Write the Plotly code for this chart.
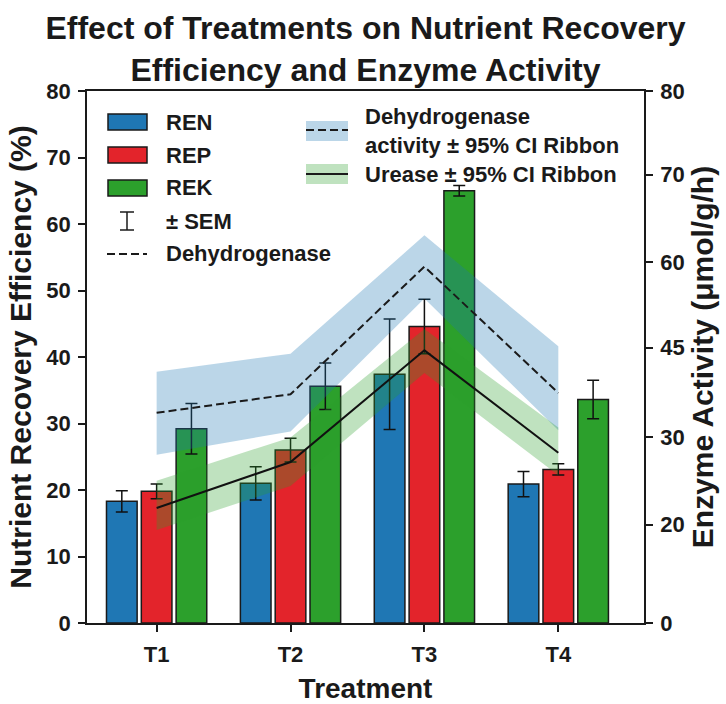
import plotly.graph_objects as go

# ---- data ----
treatments = ["T1", "T2", "T3", "T4"]

ren = [18.3, 21.0, 37.4, 20.9]
ren_sem = [1.6, 2.5, 8.3, 1.9]
rep = [19.8, 26.0, 44.6, 23.1]
rep_sem = [1.1, 1.8, 4.1, 0.85]
rek = [29.2, 35.6, 65.0, 33.6]
rek_sem = [3.8, 3.5, 0.8, 2.9]

# enzyme activity, in secondary-axis units
dehydrogenase = [31.6, 34.4, 53.6, 34.6]
dehydrogenase_lo = [25.3, 28.8, 48.8, 29.0]
dehydrogenase_hi = [37.8, 40.5, 58.3, 41.6]
urease = [17.3, 24.2, 41.0, 25.6]
urease_lo = [14.0, 20.6, 37.6, 22.2]
urease_hi = [21.4, 27.9, 44.2, 29.4]

enzyme_tick_labels = ["0", "20", "30", "45", "60", "70", "80"]

# ---- styling ----
FONT = "Liberation Sans, Arial, sans-serif"
C_REN = "#1f77b4"
C_REP = "#e3242b"
C_REK = "#2ca02c"
EDGE = "#1a1a1a"
INK = "#1a1a1a"
enzyme_tick_pos = [0, 14.8, 28.0, 41.4, 54.3, 67.4, 80]

W, H = 726, 704
ML, MR, MT, MB = 87, 82, 91, 81
PW, PH = W - ML - MR, H - MT - MB


def px(x):
    return (x - ML) / PW


def py(y):
    return (H - MB - y) / PH


fig = go.Figure()

for name, vals, sem, col in [("REN", ren, ren_sem, C_REN),
                             ("REP", rep, rep_sem, C_REP),
                             ("REK", rek, rek_sem, C_REK)]:
    fig.add_trace(go.Bar(
        x=treatments, y=vals, name=name,
        marker=dict(color=col, line=dict(color=EDGE, width=1.5)),
        error_y=dict(type="data", array=sem, color="#111111",
                     thickness=1.5, width=6),
        yaxis="y", showlegend=False,
    ))

# confidence ribbons
for lo, hi, fill in [(dehydrogenase_lo, dehydrogenase_hi, "rgba(31,119,180,0.30)"),
                     (urease_lo, urease_hi, "rgba(44,160,44,0.30)")]:
    fig.add_trace(go.Scatter(x=treatments, y=hi, mode="lines",
                             line=dict(width=0), yaxis="y2",
                             showlegend=False, hoverinfo="skip"))
    fig.add_trace(go.Scatter(x=treatments, y=lo, mode="lines",
                             line=dict(width=0), fill="tonexty",
                             fillcolor=fill, yaxis="y2",
                             showlegend=False, hoverinfo="skip"))

fig.add_trace(go.Scatter(x=treatments, y=dehydrogenase, mode="lines",
                         name="Dehydrogenase",
                         line=dict(color=INK, width=2, dash="8px,4px"),
                         yaxis="y2", showlegend=False))
fig.add_trace(go.Scatter(x=treatments, y=urease, mode="lines",
                         name="Urease",
                         line=dict(color="#111111", width=2),
                         yaxis="y2", showlegend=False))

# ---- legends ----
shapes = []
annotations = []
LF = dict(family=FONT, size=22, color=INK, weight="bold")


def label(x, y, text):
    annotations.append(dict(x=px(x), y=py(y), xref="paper", yref="paper",
                            text=text, showarrow=False, xanchor="left",
                            yanchor="middle", align="left", font=LF))


def rect(x0, y0, x1, y1, fill, line_col=EDGE, lw=1.5):
    shapes.append(dict(type="rect", xref="paper", yref="paper",
                       x0=px(x0), x1=px(x1), y0=py(y1), y1=py(y0),
                       fillcolor=fill, line=dict(color=line_col, width=lw)))


def seg(x0, y0, x1, y1, dash="solid", lw=2):
    shapes.append(dict(type="line", xref="paper", yref="paper",
                       x0=px(x0), x1=px(x1), y0=py(y0), y1=py(y1),
                       line=dict(color=INK, width=lw, dash=dash)))


rows = [122, 155, 188, 221, 254]
for (name, col), yc in zip([("REN", C_REN), ("REP", C_REP), ("REK", C_REK)], rows):
    rect(108, yc - 8, 147, yc + 8, col)
    label(164, yc, name)
# SEM glyph
seg(127, rows[3] - 9, 127, rows[3] + 9, lw=1.5)
seg(120, rows[3] - 9, 134, rows[3] - 9, lw=1.5)
seg(120, rows[3] + 9, 134, rows[3] + 9, lw=1.5)
label(164, rows[3], "± SEM")
seg(107, rows[4], 147, rows[4], dash="8px,4px")
label(164, rows[4], "Dehydrogenase")

rect(306, 121, 348, 141, "rgba(31,119,180,0.30)", line_col="rgba(0,0,0,0)", lw=0)
seg(306, 130, 348, 130, dash="8px,4px")
label(363, 131, "Dehydrogenase<br>activity ± 95% CI Ribbon")
rect(306, 164, 348, 184, "rgba(44,160,44,0.30)", line_col="rgba(0,0,0,0)", lw=0)
seg(306, 174, 348, 174)
label(363, 174, "Urease ± 95% CI Ribbon")

TICKF = dict(family=FONT, size=22, color=INK, weight="bold")
XTITF = dict(family=FONT, size=28, color=INK, weight="bold")
YTITF = dict(family=FONT, size=30, color=INK, weight="bold")

fig.update_layout(
    width=W, height=H,
    margin=dict(l=ML, r=MR, t=MT, b=MB),
    paper_bgcolor="white", plot_bgcolor="white",
    barmode="group", bargap=0.22, bargroupgap=0.12,
    title=dict(text="Effect of Treatments on Nutrient Recovery<br>Efficiency and Enzyme Activity",
               x=0.5, xref="paper", xanchor="center",
               y=1 - 39 / H, yref="container", yanchor="middle",
               font=dict(family=FONT, size=32, color=INK, weight="bold"),
               automargin=False),
    xaxis=dict(type="category", range=[-0.52, 3.64], automargin=False,
               showline=True, linecolor=INK, linewidth=1.5, mirror=True,
               ticks="outside", ticklen=7, tickwidth=1.5, tickcolor=INK,
               ticklabelstandoff=4,
               tickfont=TICKF, showgrid=False,
               title=dict(text="Treatment", font=XTITF, standoff=12)),
    yaxis=dict(range=[0, 80], dtick=10, automargin=False,
               showline=True, linecolor=INK, linewidth=1.5, mirror=True,
               ticks="outside", ticklen=7, tickwidth=1.5, tickcolor=INK,
               ticklabelstandoff=3,
               tickfont=TICKF, showgrid=False, zeroline=False,
               title=dict(text="Nutrient Recovery Efficiency (%)", font=YTITF, standoff=6)),
    yaxis2=dict(range=[0, 80], overlaying="y", side="right", automargin=False,
                tickmode="array", tickvals=enzyme_tick_pos, ticktext=enzyme_tick_labels,
                showline=True, linecolor=INK, linewidth=1.5,
                ticks="outside", ticklen=7, tickwidth=1.5, tickcolor=INK,
                ticklabelstandoff=3,
                tickfont=TICKF, showgrid=False, zeroline=False,
                title=dict(text="Enzyme Activity (μmol/g/h)", font=YTITF, standoff=8)),
    shapes=shapes, annotations=annotations,
    showlegend=False,
)

fig.write_html("out.html")
